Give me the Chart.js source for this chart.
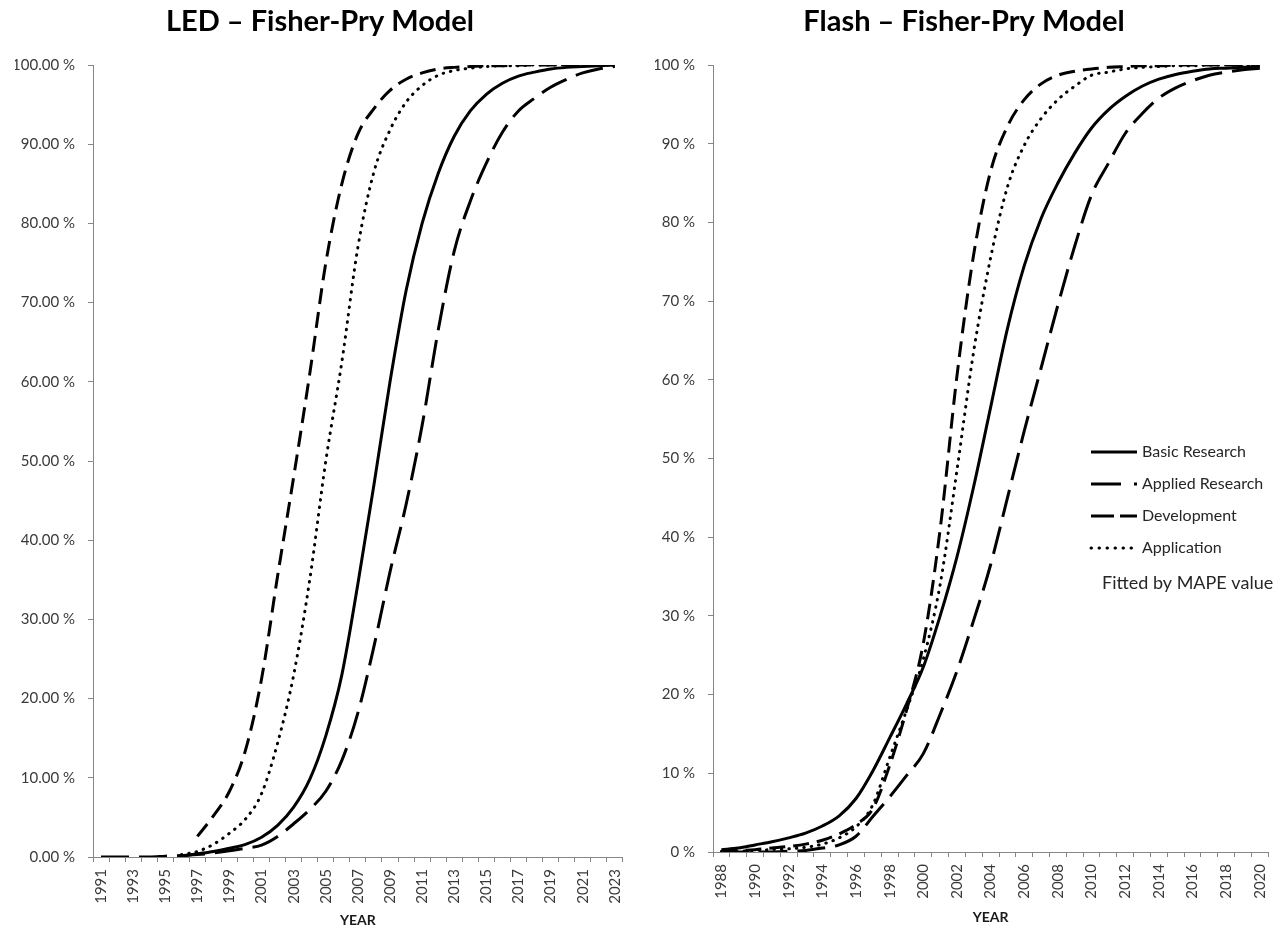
<!DOCTYPE html>
<html>
<head>
<meta charset="utf-8">
<title>Fisher-Pry Model</title>
<script src="https://cdn.jsdelivr.net/npm/chart.js@4.4.0/dist/chart.umd.min.js"></script>
<style>
    body { margin: 0; background: #fff; }
    #wrap { position: relative; width: 1285px; height: 933px; }
    #ledBox { position: absolute; left: 0; top: 0; }
    #flashBox { position: absolute; left: 640px; top: 0; }
    canvas { display: block; }
</style>
</head>
<body>
<div id="wrap">
    <div id="ledBox"><canvas id="ledChart" width="640" height="933"></canvas></div>
    <div id="flashBox"><canvas id="flashChart" width="645" height="933"></canvas></div>
</div>
<script>
// Series names (same order in both charts)
const seriesNames = ['Basic Research', 'Applied Research', 'Development', 'Application'];

// LED chart, years 1991 - 2023 (values in %)
const ledYears = ['1991', '1992', '1993', '1994', '1995', '1996', '1997', '1998', '1999', '2000',
    '2001', '2002', '2003', '2004', '2005', '2006', '2007', '2008', '2009', '2010',
    '2011', '2012', '2013', '2014', '2015', '2016', '2017', '2018', '2019', '2020',
    '2021', '2022', '2023'];
const ledBasic = [null, null, null, null, null, 0.1, 0.4, 0.7, 1.1, 1.6,
    2.5, 4.0, 6.3, 9.8, 15.3, 23, 34.5, 47, 60, 71.5,
    80, 86.3, 91, 94.2, 96.3, 97.7, 98.6, 99.1, 99.5, 99.7,
    99.8, 99.9, 100];
const ledApplied = [0, 0, 0, 0, 0.1, 0.2, 0.3, 0.5, 0.8, 1.1,
    1.5, 2.6, 4.2, 6.0, 8.3, 12.2, 18.2, 26.6, 36, 44.5,
    54.5, 66.5, 76.5, 82.8, 87.6, 91.5, 94.2, 95.8, 97.2, 98.2,
    99, 99.5, 99.8];
const ledDevelopment = [null, null, null, null, null, null, 2.6, 5.2, 8.3, 13.5,
    22.5, 35.5, 48, 61, 75, 85, 91.3, 94.5, 96.8, 98.2,
    99.0, 99.5, 99.7, 99.8, 99.9, 99.9, 100, 100, 100, 100,
    100, 100, 100];
const ledApplication = [null, null, null, null, null, 0.3, 0.7, 1.6, 3.0, 4.8,
    8.0, 14.4, 23, 35, 50, 62.5, 77, 86.5, 91.8, 95.3,
    97.4, 98.7, 99.3, 99.6, 99.8, 99.9, 99.9, 100, 100, 100,
    100, 100, 100];

// Flash chart, years 1988 - 2020 (values in %)
const flashYears = ['1988', '1989', '1990', '1991', '1992', '1993', '1994', '1995', '1996', '1997',
    '1998', '1999', '2000', '2001', '2002', '2003', '2004', '2005', '2006', '2007',
    '2008', '2009', '2010', '2011', '2012', '2013', '2014', '2015', '2016', '2017',
    '2018', '2019', '2020'];
const flashBasic = [0.3, 0.5, 0.9, 1.3, 1.8, 2.4, 3.3, 4.6, 6.8, 10.3,
    14.5, 18.8, 23.5, 30, 37.5, 46.5, 56.5, 66.5, 74.5, 80.5,
    85, 88.8, 92, 94.3, 96, 97.3, 98.2, 98.8, 99.2, 99.5,
    99.6, 99.7, 99.8];
const flashApplied = [0, 0, 0, 0, 0.1, 0.2, 0.5, 0.9, 2.0, 4.5,
    7, 9.7, 12.5, 17.5, 23, 29.5, 36.5, 45, 53.5, 61.5,
    69.5, 77, 83.5, 87.5, 91.3, 93.8, 95.8, 97.1, 98, 98.7,
    99.1, 99.4, 99.6];
const flashDevelopment = [0.1, 0.2, 0.3, 0.5, 0.7, 1.0, 1.5, 2.3, 3.5, 5.5,
    11, 18, 26.5, 41, 60.5, 76, 86.5, 92.2, 95.6, 97.6,
    98.7, 99.2, 99.5, 99.7, 99.8, 99.9, 99.9, 100, 100, 100,
    100, 100, 100];
const flashApplication = [0.1, 0.1, 0.2, 0.3, 0.4, 0.6, 1.0, 1.8, 3.2, 6.0,
    12, 18, 24.5, 34, 48.5, 63.7, 75.5, 84.5, 89.8, 93.2,
    95.6, 97.3, 98.7, 99.1, 99.5, 99.7, 99.8, 99.9, 99.9, 100,
    100, 100, 100];

const yTicks = [0, 10, 20, 30, 40, 50, 60, 70, 80, 90, 100];

// Line looks: solid, long dash (dot), dash, dotted
const lineStyles = [
    { dash: [], cap: 'butt', legendDash: [] },
    { dash: [28, 10], cap: 'butt', legendDash: [30, 13, 3, 30] },
    { dash: [16, 8], cap: 'butt', legendDash: [23, 6] },
    { dash: [0.5, 7], cap: 'round', legendDash: [0.5, 7.5] }
];

const axisGray = '#868686';
const tickColor = '#3a3a3a';
const fontFamily = 'Lato, "Open Sans", sans-serif';

// Legend drawn inside the Flash chart
const flashLegend = {
    id: 'flashLegend',
    afterDraw(chart) {
        const ctx = chart.ctx;
        ctx.save();
        ctx.font = '16px ' + fontFamily;
        ctx.textBaseline = 'middle';
        ctx.fillStyle = '#262626';
        seriesNames.forEach((name, i) => {
            const y = 452 + i * 32;
            ctx.beginPath();
            ctx.strokeStyle = '#000';
            ctx.lineWidth = 3;
            ctx.lineCap = lineStyles[i].cap;
            ctx.setLineDash(lineStyles[i].legendDash);
            ctx.moveTo(451, y);
            ctx.lineTo(497, y);
            ctx.stroke();
            ctx.setLineDash([]);
            ctx.fillText(name, 502, y);
        });
        ctx.font = '18px ' + fontFamily;
        ctx.fillText('Fitted by MAPE value', 462, 583);
        ctx.restore();
    }
};

function buildChart(canvasId, opts) {
    const datasets = seriesNames.map((name, i) => ({
        label: name,
        data: opts.series[i],
        borderColor: '#000',
        borderWidth: 3,
        borderDash: lineStyles[i].dash,
        borderCapStyle: lineStyles[i].cap,
        pointRadius: 0,
        cubicInterpolationMode: 'monotone',
        fill: false
    }));

    return new Chart(document.getElementById(canvasId), {
        type: 'line',
        data: { labels: opts.years, datasets: datasets },
        options: {
            responsive: false,
            animation: false,
            devicePixelRatio: 1,
            layout: { padding: { left: 15, right: opts.padRight, top: 0, bottom: 0 } },
            plugins: {
                legend: { display: false },
                tooltip: { enabled: false },
                title: {
                    display: true,
                    text: opts.title,
                    color: '#000',
                    font: { family: fontFamily, size: 29, weight: 'bold' },
                    padding: { top: 4, bottom: 26.2 }
                }
            },
            scales: {
                x: {
                    type: 'category',
                    offset: true,
                    grid: { drawOnChartArea: false, drawTicks: true, tickLength: 5, offset: true, color: axisGray },
                    border: { display: true, color: axisGray, width: 1 },
                    ticks: {
                        autoSkip: false,
                        minRotation: 90,
                        maxRotation: 90,
                        padding: 7,
                        color: tickColor,
                        font: { family: fontFamily, size: 15 },
                        callback: function(value, index) {
                            return index % 2 === 0 ? this.getLabelForValue(value) : '';
                        }
                    },
                    title: {
                        display: true,
                        text: 'YEAR',
                        color: '#1a1a1a',
                        font: { family: fontFamily, size: 14, weight: 'bold' },
                        padding: { top: 0, bottom: opts.yearPad }
                    },
                    afterFit: function(scale) { scale.height = opts.xHeight; }
                },
                y: {
                    min: 0,
                    max: 100,
                    afterBuildTicks: function(scale) {
                        scale.ticks = yTicks.map(v => ({ value: v }));
                    },
                    grid: { drawOnChartArea: false, drawTicks: true, tickLength: 5, color: axisGray },
                    border: { display: true, color: axisGray, width: 1 },
                    ticks: {
                        padding: 13,
                        color: tickColor,
                        font: { family: fontFamily, size: 15 },
                        callback: opts.tickFormat
                    },
                    afterFit: function(scale) { scale.width = opts.yWidth; }
                }
            }
        },
        plugins: opts.extraPlugins || []
    });
}

document.addEventListener('DOMContentLoaded', function() {
    buildChart('ledChart', {
        title: 'LED \u2013 Fisher-Pry Model',
        years: ledYears,
        series: [ledBasic, ledApplied, ledDevelopment, ledApplication],
        tickFormat: v => v.toFixed(2) + ' %',
        yWidth: 78,
        xHeight: 76,
        yearPad: 4,
        padRight: 15
    });

    buildChart('flashChart', {
        title: 'Flash \u2013 Fisher-Pry Model',
        years: flashYears,
        series: [flashBasic, flashApplied, flashDevelopment, flashApplication],
        tickFormat: v => v + ' %',
        yWidth: 58,
        xHeight: 81,
        yearPad: 7,
        padRight: 12,
        extraPlugins: [flashLegend]
    });
});
</script>
</body>
</html>
